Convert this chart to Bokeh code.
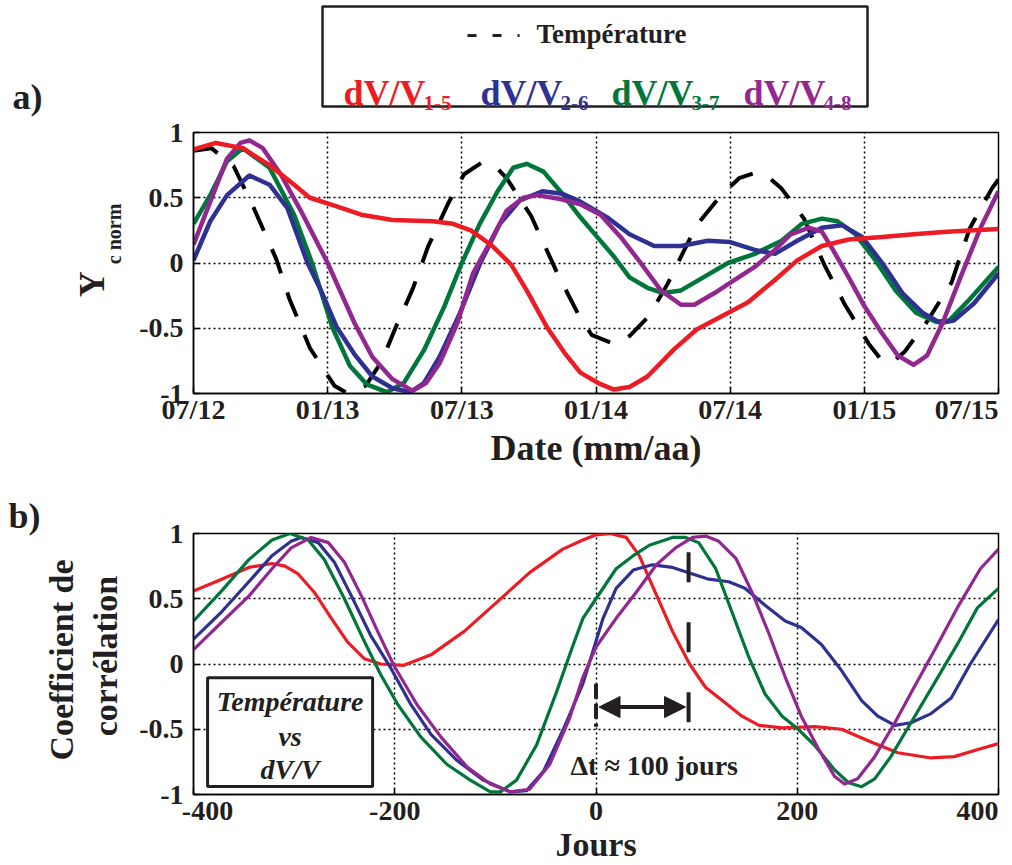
from bokeh.plotting import figure
from bokeh.layouts import column
from bokeh.models import Range1d, FixedTicker, LinearAxis, Arrow, NormalHead, Title, Label
from bokeh.core.properties import value
from bokeh.embed import file_html
from bokeh.resources import INLINE

FONT = "Liberation Serif"
INK = "#231F20"
RED, BLUE, GREEN, PURPLE = "#ED1C24", "#2E3192", "#00763B", "#92278F"
FS = "\u2007"  # figure space, used to nudge edge tick labels inside the canvas

# ---------------- panel a : months since 07/2012 ----------------
temp_m = [0, 0.8, 1.8, 2.7, 3.7, 4.3, 5.2, 6.3, 6.9, 7.7, 8.4, 9.1, 9.8, 10.5, 11.4, 12.1, 12.9,
          13.5, 14.0, 15.1, 16.3, 17.2, 17.8, 18.8, 19.5, 20.4, 21.2, 22.5, 23.6, 24.4, 25.1, 25.7,
          26.3, 27.3, 28.2, 29.1, 30.2, 30.7, 31.2, 31.8, 32.8, 33.9, 34.7, 35.7, 36.0]
temp_v = [0.86, 0.88, 0.74, 0.42, 0.03, -0.28, -0.65, -0.94, -1.0, -0.94, -0.76, -0.47, -0.2, 0.13,
          0.46, 0.68, 0.77, 0.74, 0.65, 0.36, -0.09, -0.39, -0.55, -0.62, -0.56, -0.40, -0.16, 0.29,
          0.52, 0.65, 0.69, 0.66, 0.57, 0.34, -0.01, -0.31, -0.62, -0.73, -0.77, -0.68, -0.45, -0.15,
          0.26, 0.57, 0.64]

red_m = [0, 1.0, 2.2, 3.4, 4.5, 5.2, 6.3, 7.5, 8.9, 10.7, 11.6, 12.4, 13.3, 14.2, 14.9, 15.8, 16.6,
         17.3, 18.1, 18.8, 19.5, 20.3, 21.5, 22.5, 23.6, 24.8, 26.0, 27.0, 28.1, 29.3, 30.8, 32.2,
         33.7, 36.0]
red_v = [0.87, 0.92, 0.88, 0.75, 0.60, 0.50, 0.44, 0.37, 0.33, 0.32, 0.30, 0.25, 0.14, -0.01, -0.21,
         -0.49, -0.69, -0.84, -0.92, -0.97, -0.95, -0.87, -0.66, -0.51, -0.41, -0.30, -0.13, 0.02,
         0.13, 0.18, 0.20, 0.22, 0.24, 0.26]

blue_m = [0, 0.75, 1.5, 2.5, 3.4, 4.2, 5.1, 5.7, 6.4, 7.2, 8.0, 8.9, 9.7, 10.3, 11.0, 11.9, 12.8,
          13.7, 14.6, 15.6, 16.5, 17.3, 18.5, 19.5, 20.6, 21.8, 23.0, 24.0, 25.1, 26.0, 27.0, 28.1,
          29.0, 29.9, 30.8, 31.7, 32.6, 33.4, 34.0, 34.9, 36.0]
blue_v = [0.02, 0.32, 0.52, 0.67, 0.60, 0.42, 0.0, -0.21, -0.49, -0.70, -0.87, -0.96, -0.99, -0.92,
          -0.72, -0.39, -0.01, 0.30, 0.48, 0.55, 0.53, 0.47, 0.35, 0.22, 0.13, 0.13, 0.17, 0.16,
          0.10, 0.07, 0.17, 0.27, 0.29, 0.20, 0.0, -0.23, -0.38, -0.46, -0.44, -0.31, -0.08]

green_m = [0, 0.75, 1.5, 2.2, 3.4, 4.5, 5.3, 6.2, 7.0, 7.75, 8.65, 9.4, 10.3, 11.2, 12.0, 12.8, 13.6,
           14.3, 14.9, 15.65, 16.4, 17.3, 18.05, 18.8, 19.5, 20.3, 21.0, 21.8, 22.8, 23.9, 25.1,
           26.3, 27.2, 28.1, 28.8, 29.6, 30.5, 31.4, 32.3, 33.2, 33.8, 34.7, 36.0]
green_v = [0.30, 0.52, 0.78, 0.88, 0.73, 0.37, 0.0, -0.49, -0.79, -0.93, -0.99, -0.92, -0.67, -0.34,
           0.0, 0.30, 0.55, 0.73, 0.76, 0.70, 0.55, 0.35, 0.20, 0.05, -0.11, -0.19, -0.23, -0.21,
           -0.11, 0.0, 0.07, 0.17, 0.30, 0.34, 0.32, 0.22, 0.02, -0.21, -0.38, -0.45, -0.44, -0.28,
           -0.03]

purple_m = [0, 0.75, 1.5, 2.1, 2.5, 3.1, 3.9, 4.8, 6.0, 7.2, 8.0, 8.9, 9.8, 10.4, 11.0, 11.8, 12.5,
            13.3, 14.0, 14.75, 15.35, 16.4, 17.3, 18.2, 19.1, 20.0, 20.9, 21.8, 22.4, 23.3, 24.2,
            25.1, 26.0, 26.7, 27.5, 28.1, 28.6, 29.3, 30.0, 30.8, 31.5, 32.2, 32.8, 33.5, 34.3,
            35.2, 36.0]
purple_v = [0.14, 0.47, 0.80, 0.92, 0.94, 0.88, 0.68, 0.40, 0.0, -0.46, -0.72, -0.89, -0.98, -0.92,
            -0.77, -0.46, -0.08, 0.17, 0.40, 0.50, 0.52, 0.49, 0.45, 0.37, 0.20, 0.0, -0.21, -0.32,
            -0.32, -0.23, -0.13, -0.03, 0.10, 0.22, 0.27, 0.24, 0.10, -0.11, -0.33, -0.54, -0.71,
            -0.78, -0.71, -0.46, -0.11, 0.27, 0.55]

x_tick_months = [0, 6, 12, 18, 24, 30, 36]
x_tick_labels = ["07/12", "01/13", "07/13", "01/14", "07/14", "01/15", "07/15"]
y_ticks = [-1, -0.5, 0, 0.5, 1]
y_tick_labels = ["-1", "-0.5", "0", "0.5", "1"]

# ---------------- panel b : lag in days ----------------
red_lag = [-400, -372, -345, -322, -309, -296, -280, -263, -247, -230, -214, -191, -164, -131, -99,
           -66, -33, -13, 0, 14, 30, 43, 60, 76, 93, 109, 129, 145, 162, 185, 218, 244, 274, 300,
           333, 356, 382, 400]
red_corr = [0.56, 0.65, 0.74, 0.77, 0.75, 0.69, 0.55, 0.35, 0.17, 0.04, 0.0, -0.01, 0.07, 0.25, 0.47,
            0.70, 0.88, 0.95, 0.99, 1.0, 0.97, 0.83, 0.53, 0.25, 0.0, -0.18, -0.30, -0.40, -0.47,
            -0.49, -0.48, -0.50, -0.60, -0.68, -0.72, -0.71, -0.65, -0.61]

green_lag = [-400, -372, -345, -322, -304, -286, -270, -250, -230, -214, -197, -174, -148, -125,
             -105, -95, -79, -59, -39, -23, -13, 0, 20, 37, 53, 76, 89, 102, 119, 135, 152, 168,
             185, 201, 218, 237, 251, 264, 277, 293, 313, 336, 359, 379, 400]
green_corr = [0.33, 0.56, 0.80, 0.95, 1.0, 0.95, 0.80, 0.50, 0.17, -0.08, -0.31, -0.56, -0.77, -0.89,
              -0.98, -0.98, -0.89, -0.62, -0.21, 0.14, 0.35, 0.50, 0.73, 0.83, 0.91, 0.97, 0.97, 0.93,
              0.73, 0.40, 0.05, -0.23, -0.40, -0.50, -0.63, -0.81, -0.91, -0.94, -0.88, -0.71, -0.45,
              -0.15, 0.15, 0.43, 0.58]

blue_lag = [-400, -372, -345, -322, -303, -293, -276, -260, -243, -224, -204, -184, -164, -138, -112,
            -85, -69, -52, -33, -13, -3, 7, 20, 37, 56, 76, 96, 112, 132, 148, 168, 188, 204, 224,
            244, 264, 280, 297, 313, 333, 353, 372, 400]
blue_corr = [0.19, 0.40, 0.63, 0.83, 0.94, 0.97, 0.93, 0.78, 0.52, 0.22, -0.03, -0.31, -0.54, -0.74,
             -0.89, -0.98, -0.97, -0.82, -0.51, -0.15, 0.10, 0.35, 0.58, 0.72, 0.76, 0.74, 0.69, 0.65,
             0.63, 0.58, 0.45, 0.33, 0.28, 0.15, -0.05, -0.28, -0.40, -0.47, -0.45, -0.38, -0.26,
             0.0, 0.34]

purple_lag = [-400, -372, -345, -322, -303, -283, -266, -250, -233, -217, -201, -178, -154, -128,
              -105, -85, -66, -46, -26, -13, 0, 20, 40, 60, 79, 96, 109, 122, 139, 155, 172, 188,
              204, 221, 237, 247, 260, 277, 297, 316, 336, 359, 382, 400]
purple_corr = [0.11, 0.32, 0.52, 0.73, 0.89, 0.97, 0.93, 0.78, 0.52, 0.25, -0.01, -0.31, -0.56,
               -0.79, -0.92, -0.98, -0.96, -0.77, -0.41, -0.10, 0.13, 0.35, 0.55, 0.76, 0.89, 0.97,
               0.98, 0.94, 0.81, 0.55, 0.23, -0.10, -0.40, -0.65, -0.86, -0.92, -0.88, -0.71, -0.45,
               -0.18, 0.10, 0.43, 0.73, 0.88]

lag_ticks = [-400, -200, 0, 200, 400]
lag_tick_labels = ["-400", "-200", "0", "200", "400"]

series_colors = [RED, BLUE, GREEN, PURPLE]
series_subs = ["1-5", "2-6", "3-7", "4-8"]
delta_t_days = 92   # lag marked by the arrow

W = 1012


def style(p):
    for ax in p.axis:
        ax.axis_line_width = 1.5
        ax.axis_line_color = "black"
        ax.major_tick_in = 6
        ax.major_tick_out = 0
        ax.major_tick_line_width = 1.5
        ax.minor_tick_line_color = None
        ax.major_label_text_font = FONT
        ax.major_label_text_font_style = "bold"
        ax.major_label_text_font_size = "28px"
        ax.major_label_text_color = INK
        ax.axis_label_text_font = FONT
        ax.axis_label_text_font_style = "bold"
        ax.axis_label_text_color = INK
    p.xaxis.major_label_standoff = 0
    p.yaxis.major_label_standoff = 10
    p.yaxis.ticker = FixedTicker(ticks=y_ticks)
    p.yaxis.major_label_overrides = dict(zip(y_ticks, y_tick_labels))
    p.grid.grid_line_color = "black"
    p.grid.grid_line_dash = "2 3"
    p.grid.grid_line_width = 1.5
    p.outline_line_color = "black"
    p.outline_line_width = 1.5
    p.outline_line_alpha = 1.0


def text_axis(p, side, pos, text, size, standoff, orientation="horizontal"):
    """An axis with a single labelled tick, used as an out-of-frame text carrier."""
    ax = LinearAxis(ticker=FixedTicker(ticks=[pos]), major_label_overrides={pos: text},
                    axis_line_color=None, major_tick_line_color=None,
                    minor_tick_line_color=None, major_tick_in=0, major_tick_out=0,
                    minor_tick_in=0, minor_tick_out=0,
                    major_label_standoff=standoff, major_label_orientation=orientation,
                    major_label_text_font=FONT, major_label_text_font_style="bold",
                    major_label_text_font_size=size, major_label_text_color=INK)
    p.add_layout(ax, side)


# ---------------- legend strip (x in page pixels) ----------------
leg = figure(width=W, height=118, x_range=Range1d(193, 998), y_range=Range1d(0, 118),
             x_axis_type=None, y_axis_type=None, toolbar_location=None, output_backend="svg",
             min_border_left=193, min_border_right=14, min_border_top=0, min_border_bottom=0)
leg.outline_line_color = None
leg.quad(left=[322], right=[867], bottom=[12], top=[112], fill_color=None,
         line_color=INK, line_width=2.5)
leg.segment(x0=[467], y0=[83], x1=[519], y1=[83], line_color=INK, line_width=3, line_dash="9 16")
leg.text(x=[536], y=[85], text=["Température"], text_font=value(FONT), text_font_style="bold",
         text_font_size="27px", text_baseline="middle", text_align="left", text_color=INK)
leg_x = [343, 480, 611, 743]
leg.text(x=leg_x, y=[26] * 4, text=["dV/V"] * 4, text_color=series_colors,
         text_font=value(FONT), text_font_style="bold", text_font_size="36px",
         text_baseline="alphabetic", text_align="left")
leg.text(x=[v + 80 for v in leg_x], y=[16] * 4, text=series_subs, text_color=series_colors,
         text_font=value(FONT), text_font_style="bold", text_font_size="21px",
         text_baseline="alphabetic", text_align="left")
text_axis(leg, "left", 18, "a)", "36px", 151)

# ---------------- panel a ----------------
pa = figure(width=W, height=352, x_range=Range1d(0, 36), y_range=Range1d(-1, 1),
            toolbar_location=None, output_backend="svg",
            min_border_left=193, min_border_right=14, min_border_top=14, min_border_bottom=73)
style(pa)
pa.xaxis.ticker = FixedTicker(ticks=x_tick_months)
a_labels = list(x_tick_labels)
a_labels[-1] = a_labels[-1] + FS
pa.xaxis.major_label_overrides = dict(zip(x_tick_months, a_labels))
pa.xaxis.axis_label = "Date (mm/aa)"
pa.xaxis.axis_label_text_font_size = "36px"
pa.xaxis.axis_label_standoff = 0
text_axis(pa, "left", 0.2226, "c norm", "20px", 11, "vertical")
text_axis(pa, "left", -0.1623, "Y", "36px", -12, "vertical")

pa.line(temp_m, temp_v, line_color="black", line_width=4, line_dash="26 20")
pa.line(green_m, green_v, line_color=GREEN, line_width=4.5, line_join="round")
pa.line(blue_m, blue_v, line_color=BLUE, line_width=4.5, line_join="round")
pa.line(purple_m, purple_v, line_color=PURPLE, line_width=4.5, line_join="round")
pa.line(red_m, red_v, line_color=RED, line_width=4.5, line_join="round")

# ---------------- panel b ----------------
pb = figure(width=W, height=395, x_range=Range1d(-400, 400), y_range=Range1d(-1, 1),
            toolbar_location=None, output_backend="svg",
            min_border_left=193, min_border_right=14, min_border_top=63, min_border_bottom=68)
style(pb)
pb.xaxis.ticker = FixedTicker(ticks=lag_ticks)
b_labels = list(lag_tick_labels)
b_labels[0] = FS * 2 + b_labels[0]
b_labels[-1] = b_labels[-1] + FS
pb.xaxis.major_label_overrides = dict(zip(lag_ticks, b_labels))
pb.xaxis.axis_label = "Jours"
pb.xaxis.axis_label_text_font_size = "34px"
pb.xaxis.axis_label_standoff = -3
text_axis(pb, "left", 0.0606, "corrélation", "34px", 12, "vertical")
text_axis(pb, "left", 0.0303, "Coefficient de", "34px", 4, "vertical")
pb.add_layout(Title(text="b)", align="left", offset=-185, standoff=-4, text_font=FONT,
                    text_font_size="36px", text_font_style="bold", text_color=INK), "above")

pb.line(red_lag, red_corr, line_color=RED, line_width=3.2, line_join="round")
pb.line(blue_lag, blue_corr, line_color=BLUE, line_width=3.2, line_join="round")
pb.line(green_lag, green_corr, line_color=GREEN, line_width=3.2, line_join="round")
pb.line(purple_lag, purple_corr, line_color=PURPLE, line_width=3.2, line_join="round")

# annotation box
pb.quad(left=[-386], right=[-222], top=[-0.106], bottom=[-0.939], fill_color="white",
        line_color=INK, line_width=3)
pb.text(x=[-304] * 3, y=[-0.288, -0.553, -0.811], text=["Température", "vs", "dV/V"],
        text_font=value(FONT), text_font_style="bold italic", text_font_size="28px",
        text_align="center", text_baseline="middle", text_color=INK)

# lag marker
pb.segment(x0=[0], y0=[-0.152], x1=[0], y1=[-0.48], line_color=INK, line_width=4, line_dash="15 5")
pb.segment(x0=[delta_t_days], y0=[0.856], x1=[delta_t_days], y1=[-0.475], line_color=INK,
           line_width=4, line_dash="30 40")
pb.add_layout(Arrow(start=NormalHead(size=21, fill_color=INK, line_color=INK),
                    end=NormalHead(size=21, fill_color=INK, line_color=INK),
                    x_start=3, y_start=-0.33, x_end=delta_t_days - 3, y_end=-0.33,
                    line_color=INK, line_width=4))
pb.add_layout(Label(x=-25.3, y=-0.78, text="Δt ≈ 100 jours", text_align="left",
                    text_baseline="middle", text_font=FONT, text_font_size="28px",
                    text_font_style="bold", text_color=INK))

layout = column(leg, pa, pb)
open("out.html", "w").write(file_html(layout, INLINE))
